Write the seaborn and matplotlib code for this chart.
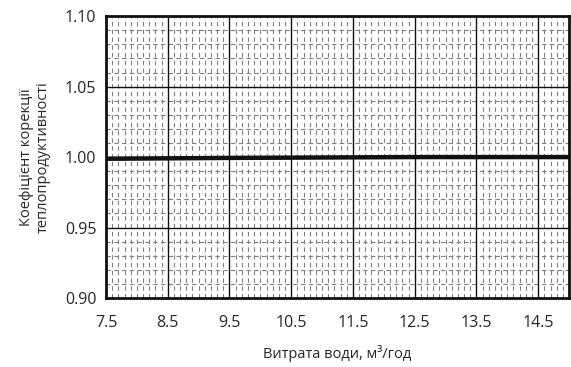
import matplotlib
matplotlib.use("Agg")
import matplotlib.pyplot as plt
import numpy as np
import pandas as pd
import seaborn as sns

flow = [7.5, 8.5, 9.5, 10.5, 11.5, 12.5, 13.5, 14.5, 15.0]
coef = [0.9988, 0.9991, 0.9994, 0.9996, 0.9998, 1.0, 1.0, 1.0, 1.0]
x_ticks = [7.5, 8.5, 9.5, 10.5, 11.5, 12.5, 13.5, 14.5]
y_ticks = [0.90, 0.95, 1.00, 1.05, 1.10]

df = pd.DataFrame({"flow": flow, "coef": coef})

sns.set_style("white")
plt.rcParams["font.family"] = ["Open Sans", "DejaVu Sans"]

fig = plt.figure(figsize=(5.71, 3.67), dpi=100)
ax = fig.add_axes([0.1856, 0.188, 0.811, 0.768])

# minor dashed grid
for xv in np.arange(7.6, 15.0, 0.1):
    if abs((xv - 7.5) % 1.0) > 0.05 and abs((xv - 7.5) % 1.0 - 1.0) > 0.05:
        ax.axvline(xv, color="#808080", lw=0.8, ls=(0, (4, 3)), zorder=1)
for yv in np.arange(0.91, 1.10, 0.01):
    if round(yv * 100) % 5 != 0:
        ax.axhline(yv, color="#808080", lw=0.8, ls=(0, (4, 3)), zorder=1)
# major grid
for xv in x_ticks[1:]:
    ax.axvline(xv, color="#111111", lw=1.0, zorder=2)
for yv in y_ticks[1:-1]:
    ax.axhline(yv, color="#111111", lw=1.0, zorder=2)

sns.lineplot(data=df, x="flow", y="coef", ax=ax, color="#111111", lw=3.2, zorder=5)

ax.set_xlim(7.5, 15.0)
ax.set_ylim(0.90, 1.10)
ax.set_xticks(x_ticks)
ax.set_xticklabels([f"{v:.1f}" for v in x_ticks])
ax.set_yticks(y_ticks)
ax.set_yticklabels([f"{v:.2f}" for v in y_ticks])
ax.tick_params(axis="x", length=0, pad=12, labelsize=11.5)
ax.tick_params(axis="y", length=0, pad=7, labelsize=11.5)
for s in ax.spines.values():
    s.set_linewidth(2)
    s.set_color("#111111")
    s.set_zorder(6)

ax.set_xlabel("Витрата води, м³/год", fontsize=10.5, labelpad=10)
ax.set_ylabel("Коефіцієнт корекції\nтеплопродуктивності", fontsize=10.5, labelpad=10)

plt.savefig("out.png", dpi=100)
plt.close()
